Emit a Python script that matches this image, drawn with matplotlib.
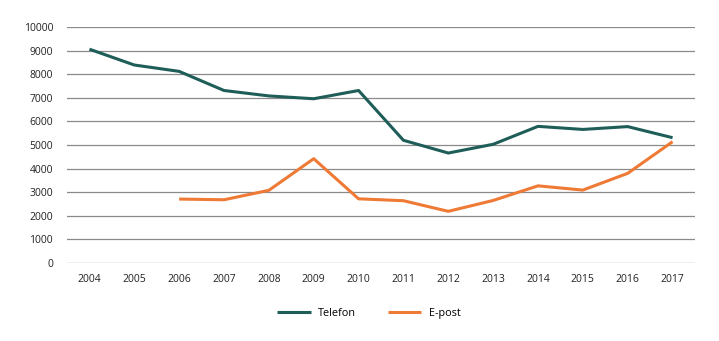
import matplotlib
matplotlib.use("Agg")
import matplotlib.pyplot as plt
import numpy as np

years = ["2004", "2005", "2006", "2007", "2008", "2009", "2010", "2011", "2012", "2013", "2014", "2015", "2016", "2017"]
telefon = [9060, 8390, 8120, 7310, 7080, 6960, 7310, 5200, 4660, 5030, 5790, 5660, 5780, 5310]
epost = [np.nan, np.nan, 2710, 2680, 3080, 4420, 2720, 2640, 2190, 2650, 3270, 3090, 3800, 5140]

plt.rcParams['font.family'] = ['Open Sans', 'DejaVu Sans']

fig = plt.figure(figsize=(7.19, 3.41), dpi=100)
ax = fig.add_axes([0.0932, 0.2287, 0.8734, 0.6921])

x = np.arange(len(years))
ax.plot(x, telefon, color="#1f5e58", lw=2.2, label="Telefon", solid_capstyle="butt")
ax.plot(x, epost, color="#ee7a36", lw=2.2, label="E-post", solid_capstyle="butt")

ax.set_xlim(-0.5, len(years) - 0.5)
ax.set_ylim(0, 10000)
ax.set_yticks(np.arange(0, 10001, 1000))
ax.set_xticks(x)
ax.set_xticklabels(years)
ax.yaxis.grid(True, color="#8a8a8a", lw=0.9)
ax.set_axisbelow(True)
for s in ax.spines.values():
    s.set_visible(False)
ax.tick_params(axis="both", length=0, labelsize=7.5, colors="#222222")
ax.tick_params(axis="x", pad=8)
ax.tick_params(axis="y", pad=10)

leg = fig.legend(loc="center", bbox_to_anchor=(0.513, 0.082), ncol=2, frameon=False,
                 fontsize=7.8, handlelength=3.1, columnspacing=2.9, handletextpad=0.7)

fig.savefig("out.png", dpi=100)
